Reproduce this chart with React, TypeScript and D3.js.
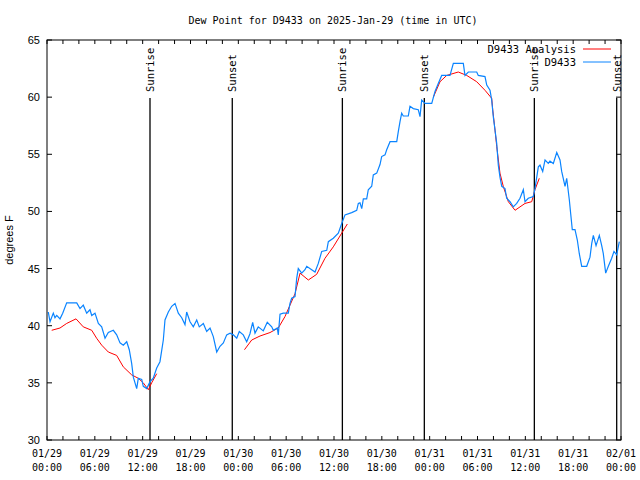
import React from "react";
import * as d3 from "d3";

const TITLE = "Dew Point for D9433 on 2025-Jan-29 (time in UTC)";
const Y_LABEL = "degrees F";
const START = Date.UTC(2025, 0, 29, 0, 0);
const SPAN_HOURS = 72;
const Y_TICKS = [30, 35, 40, 45, 50, 55, 60, 65];

// observed dew point (hours after 01/29 00:00 UTC, degF)
const obsHours = [
  0.16, 0.38, 0.79, 1.0, 1.22, 1.63, 1.97, 2.47, 3.73, 4.14, 4.55, 4.98, 5.39, 5.61, 6.02, 6.44, 6.86, 7.28, 7.69, 8.32,
  8.74, 9.16, 9.57, 10.0, 10.32, 10.62, 10.83, 11.25, 11.45, 11.88, 12.08, 12.51, 12.92, 13.33, 13.76, 14.17, 14.59, 14.8,
  15.22, 15.64, 16.06, 16.47, 16.9, 17.31, 17.52, 17.94, 18.35, 18.78, 19.1, 19.61, 20.03, 20.45, 20.86, 21.29, 21.7,
  22.12, 22.54, 22.96, 23.37, 23.8, 24.12, 24.62, 25.05, 25.46, 25.8, 26.09, 26.5, 27.13, 27.63, 28.19, 28.39, 28.89,
  29.01, 29.23, 29.64, 30.27, 30.48, 30.69, 31.11, 31.32, 31.52, 31.95, 32.36, 32.58, 33.2, 33.62, 34.03, 34.46, 35.09,
  35.29, 35.91, 36.54, 36.97, 37.38, 38.22, 38.85, 39.05, 39.26, 39.48, 39.68, 40.1, 40.3, 40.73, 40.93, 41.36, 41.77,
  41.98, 42.4, 42.61, 43.03, 43.87, 44.07, 44.28, 44.49, 44.69, 45.32, 45.53, 45.95, 46.57, 46.79, 47.0, 47.42, 48.26,
  48.67, 49.08, 49.51, 50.55, 50.97, 52.22, 52.43, 52.85, 53.9, 54.1, 54.94, 55.16, 55.57, 55.78, 55.98, 56.2, 56.41,
  56.61, 56.82, 57.04, 57.45, 57.66, 58.08, 58.49, 58.92, 59.33, 59.75, 59.96, 60.37, 61.0, 61.21, 61.63, 61.84, 62.18,
  62.47, 62.88, 63.09, 63.51, 63.94, 64.35, 64.56, 64.98, 65.19, 65.52, 65.69, 65.89, 66.23, 66.52, 66.77, 67.07, 67.7,
  68.11, 68.33, 68.53, 68.87, 69.28, 69.58, 69.78, 70.08, 70.41, 70.83, 71.12, 71.46, 71.79,
];
const obsValues = [
  41.2, 40.35, 41.1, 40.7, 40.9, 40.6, 41.1, 42.0, 42.0, 41.5, 41.8, 41.1, 41.4, 40.9, 41.1, 40.2, 39.9, 38.9, 39.4, 39.6,
  39.2, 38.5, 38.3, 38.6, 37.9, 36.7, 35.5, 34.5, 35.4, 35.3, 34.7, 34.5, 35.1, 35.4, 36.3, 36.85, 38.75, 40.5,
  41.2, 41.7, 41.95, 41.1, 40.7, 40.1, 41.2, 40.35, 39.9, 40.5, 39.9, 40.2, 39.5, 39.8, 39.05, 37.7, 38.2,
  38.5, 39.2, 39.35, 39.2, 38.9, 39.5, 39.2, 38.6, 39.3, 40.3, 39.35, 39.9, 39.55, 40.3, 39.9, 39.6, 39.8,
  39.2, 41.0, 41.1, 41.1, 41.95, 42.4, 42.55, 44.15, 45.0, 44.6, 44.9, 45.2, 44.9, 44.7, 45.45, 46.5, 46.6,
  47.35, 47.65, 48.1, 48.95, 49.7, 49.9, 50.1, 50.7, 50.75, 50.25, 51.1, 51.1, 51.9, 52.2, 53.2, 53.35, 54.1,
  54.8, 54.95, 55.4, 56.1, 56.1, 57.0, 57.85, 58.6, 58.35, 58.35, 59.2, 59.0, 58.9, 58.3, 59.75, 59.45, 59.45,
  60.5, 61.2, 61.9, 61.9, 62.95, 62.95, 61.9, 62.2, 62.2, 61.9, 61.8, 61.05, 60.6, 59.75, 58.3, 57.1, 55.95,
  54.05, 53.0, 52.2, 52.0, 51.15, 50.85, 50.4, 50.7, 51.15, 51.9, 50.85, 51.15, 51.3, 52.0, 53.9, 54.05, 53.5,
  54.5, 54.2, 54.4, 54.2, 55.15, 54.5, 53.5, 52.2, 52.9, 51.0, 49.8, 48.4, 48.4, 47.5, 46.3, 45.2, 45.2,
  46.0, 47.2, 47.9, 47.0, 47.9, 47.0, 46.3, 44.6, 45.2, 45.9, 46.5, 46.2, 47.35,
];

// analysis dew point (null = gap)
const anaHours: (number | null)[] = [
  0.59, 1.63, 2.47, 3.64, 4.55, 5.61, 6.23, 6.86, 7.69, 8.74, 9.57, 10.62, 11.45, 12.08, 12.71, 13.13, 13.76, null,
  24.77, 25.68, 26.72, 27.97, 29.01, 29.85, 30.48, 31.11, 31.74, 32.78, 33.83, 34.87, 35.91, 36.97, 37.67, null,
  48.46, 49.3, 50.14, 51.59, 52.65, 53.9, 54.94, 55.78, 55.91, 56.2, 56.41, 56.82, 57.23, 57.87, 58.71, 59.96, 60.8,
  61.21, 61.75,
];
const anaValues: (number | null)[] = [
  39.6, 39.8, 40.2, 40.6, 39.9, 39.6, 38.9, 38.3, 37.7, 37.4, 36.4, 35.7, 35.4, 35.0, 34.4, 35.0, 35.8, null,
  37.9, 38.75, 39.1, 39.4, 39.8, 40.8, 41.8, 42.8, 44.6, 44.0, 44.5, 45.9, 46.9, 48.1, 48.9, null,
  60.0, 61.35, 61.9, 62.2, 61.9, 61.35, 60.6, 59.9, 58.9, 57.1, 55.7, 53.35, 52.2, 50.85, 50.1, 50.7, 50.85,
  51.9, 52.9,
];

const sunEventHours = [12.92, 23.24, 37.05, 47.33, 61.13, 71.46];
const sunEventLabels = ["Sunrise", "Sunset", "Sunrise", "Sunset", "Sunrise", "Sunset"];

const LEGEND = ["D9433 Analysis", "D9433"];
const COLORS = ["#ff0000", "#0a84ff"];

const MONO = "'DejaVu Sans Mono', monospace";
const SANS = "'Liberation Sans', Arial, sans-serif";

const L = 47, R = 621, T = 40, B = 440;

const hToDate = (h: number) => new Date(START + h * 3600 * 1000);

export default function App() {
  const x = d3.scaleUtc().domain([hToDate(0), hToDate(SPAN_HOURS)]).range([L, R]);
  const y = d3.scaleLinear().domain([30, 65]).range([B, T]);

  const obs = obsHours.map((h, i) => [h, obsValues[i]] as [number, number]);
  const ana = anaHours.map((h, i) => [h, anaValues[i]] as [number | null, number | null]);

  const obsLine = d3
    .line<[number, number]>()
    .x((d) => x(hToDate(d[0])))
    .y((d) => y(d[1]));
  const anaLine = d3
    .line<[number | null, number | null]>()
    .defined((d) => d[0] != null && d[1] != null)
    .x((d) => x(hToDate(d[0] as number)))
    .y((d) => y(d[1] as number));

  const minorTicks = d3.range(0, SPAN_HOURS + 0.1, 2).map(hToDate);
  const labelTicks = d3.range(0, SPAN_HOURS + 0.1, 6).map(hToDate);
  const fmtDay = d3.utcFormat("%m/%d");
  const fmtTime = d3.utcFormat("%H:%M");

  return (
    <svg width={640} height={480} style={{ position: "absolute", left: 0, top: 0, background: "#fff" }}>
      <rect x={0} y={0} width={640} height={480} fill="#fff" />
      <text x={333} y={24} textAnchor="middle" fontFamily={MONO} fontSize={10} fill="#000">
        {TITLE}
      </text>

      {/* ticks */}
      {minorTicks.map((d, i) => (
        <g key={"xt" + i}>
          <line x1={x(d)} x2={x(d)} y1={B} y2={B - 4} stroke="#000" strokeWidth={1} />
          <line x1={x(d)} x2={x(d)} y1={T} y2={T + 4} stroke="#000" strokeWidth={1} />
        </g>
      ))}
      {Y_TICKS.map((v) => (
        <g key={"yt" + v}>
          <line x1={L} x2={L + 5} y1={y(v)} y2={y(v)} stroke="#000" strokeWidth={1} />
          <line x1={R} x2={R - 5} y1={y(v)} y2={y(v)} stroke="#000" strokeWidth={1} />
          <text x={40} y={y(v) + 4} textAnchor="end" fontFamily={SANS} fontSize={11} fill="#000">
            {v}
          </text>
        </g>
      ))}
      {labelTicks.map((d, i) => (
        <g key={"xl" + i}>
          <text x={x(d)} y={457} textAnchor="middle" fontFamily={MONO} fontSize={10} fill="#000">
            {fmtDay(d)}
          </text>
          <text x={x(d)} y={471} textAnchor="middle" fontFamily={MONO} fontSize={10} fill="#000">
            {fmtTime(d)}
          </text>
        </g>
      ))}

      <text
        transform={`translate(13,${(T + B) / 2}) rotate(-90)`}
        textAnchor="middle"
        fontFamily={SANS}
        fontSize={11}
        fill="#000"
      >
        {Y_LABEL}
      </text>

      {/* sunrise / sunset */}
      {sunEventHours.map((h, i) => {
        const px = x(hToDate(h));
        return (
          <g key={"sun" + i}>
            <line x1={px} x2={px} y1={98} y2={B} stroke="#000" strokeWidth={1.3} />
            <text
              transform={`translate(${px + 4},92) rotate(-90)`}
              textAnchor="start"
              fontFamily={MONO}
              fontSize={10.5}
              fill="#000"
            >
              {sunEventLabels[i]}
            </text>
          </g>
        );
      })}

      {/* series */}
      <path d={anaLine(ana) || ""} fill="none" stroke={COLORS[0]} strokeWidth={1} />
      <path d={obsLine(obs) || ""} fill="none" stroke={COLORS[1]} strokeWidth={1.2} />

      {/* legend */}
      {LEGEND.map((name, i) => (
        <g key={"lg" + i}>
          <text x={576} y={53 + i * 13} textAnchor="end" fontFamily={MONO} fontSize={10.5} fill="#000">
            {name}
          </text>
          <line x1={583} x2={611} y1={49 + i * 13} y2={49 + i * 13} stroke={COLORS[i]} strokeWidth={1} />
        </g>
      ))}

      {/* border */}
      <rect x={L} y={T} width={R - L} height={B - T} fill="none" stroke="#000" strokeWidth={1} />
    </svg>
  );
}
